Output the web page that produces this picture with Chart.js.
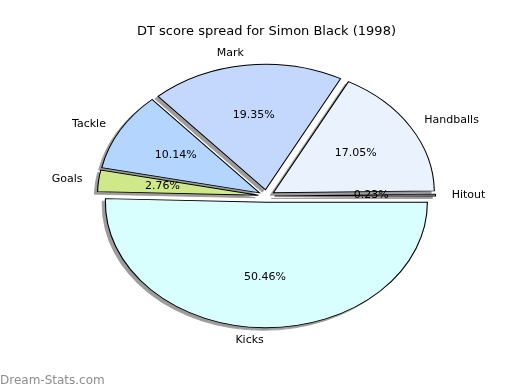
<!DOCTYPE html>
<html><head><meta charset="utf-8">
<script src="https://cdn.jsdelivr.net/npm/chart.js@4/dist/chart.umd.min.js"></script>
<style>html,body{margin:0;padding:0;background:#fff}</style>
</head><body><canvas id="c" width="520" height="390"></canvas>
<script>
// Data in matplotlib order (counter-clockwise from 3 o'clock)
const categories = ['Hitout', 'Handballs', 'Mark', 'Tackle', 'Goals', 'Kicks'];
const points = [1, 74, 84, 44, 12, 219];
const colors = ['#dcdcf0', '#eaf2fe', '#c4d8fe', '#b3d5fe', '#cfe88a', '#d8fefe'];
const titleText = 'DT score spread for Simon Black (1998)';
const watermark = 'Dream-Stats.com';

// Chart.js runs clockwise, so reverse to get the same visual order
const labelsCW = categories.slice().reverse();
const valuesCW = points.slice().reverse();
const colorsCW = colors.slice().reverse();
const total = points.reduce((a, b) => a + b, 0);

const YS = 125.5 / 161;    // vertical squash of the (non-equal aspect) pie
const EXPLODE = 0.05;
const SH_DX = -3.2, SH_DY = 2.5;
const FONT = "'DejaVu Sans', sans-serif";

function sliceTransform(ctx, el, extraX, extraY) {
  const R = el.outerRadius, off = EXPLODE * R;
  const mid = (el.startAngle + el.endAngle) / 2;
  ctx.translate(extraX, extraY);
  ctx.translate(el.x, el.y); ctx.scale(1, YS); ctx.translate(-el.x, -el.y);
  ctx.translate(Math.cos(mid) * off, Math.sin(mid) * off);
}

const piePlugin = {
  id: 'mplPie',
  beforeDatasetDraw(chart, args) {
    const ctx = chart.ctx;
    const els = args.meta.data;
    els.forEach(el => {
      ctx.save();
      sliceTransform(ctx, el, SH_DX, SH_DY);
      ctx.beginPath();
      ctx.moveTo(el.x, el.y);
      ctx.arc(el.x, el.y, el.outerRadius, el.startAngle, el.endAngle);
      ctx.closePath();
      ctx.fillStyle = '#9c9c9c';
      ctx.strokeStyle = '#9c9c9c';
      ctx.lineWidth = 1;
      ctx.fill(); ctx.stroke();
      ctx.restore();
    });
    els.forEach(el => {
      ctx.save();
      sliceTransform(ctx, el, 0, 0);
      el.draw(ctx);
      ctx.restore();
    });
    return false;
  },
  afterDatasetsDraw(chart) {
    const ctx = chart.ctx;
    const els = chart.getDatasetMeta(0).data;
    ctx.save();
    ctx.fillStyle = '#000';
    ctx.font = '11px ' + FONT;
    ctx.textBaseline = 'middle';
    els.forEach((el, i) => {
      const R = el.outerRadius;
      const mid = (el.startAngle + el.endAngle) / 2;
      const c = Math.cos(mid), s = Math.sin(mid);
      const lx = el.x + (1.1 + EXPLODE) * R * c;
      const ly = el.y + (1.1 + EXPLODE) * R * YS * s;
      ctx.textAlign = c > 0 ? 'left' : 'right';
      ctx.fillText(labelsCW[i], lx, ly);
      const px = el.x + (0.6 + EXPLODE) * R * c;
      const py = el.y + (0.6 + EXPLODE) * R * YS * s;
      ctx.textAlign = 'center';
      ctx.fillText((valuesCW[i] / total * 100).toFixed(2) + '%', px, py);
    });
    ctx.restore();
  },
  afterDraw(chart) {
    const ctx = chart.ctx;
    ctx.save();
    ctx.font = '12px ' + FONT;
    ctx.fillStyle = '#8e8e8e';
    ctx.textAlign = 'left';
    ctx.textBaseline = 'alphabetic';
    ctx.fillText(watermark, 0, 384);
    ctx.restore();
  }
};

new Chart(document.getElementById('c'), {
  type: 'pie',
  data: {
    labels: labelsCW,
    datasets: [{
      data: valuesCW,
      backgroundColor: colorsCW,
      borderColor: '#000',
      borderWidth: 1.1,
      borderJoinStyle: 'miter',
      offset: 0,
      clip: false
    }]
  },
  options: {
    responsive: false,
    devicePixelRatio: 1,
    animation: false,
    events: [],
    rotation: 90,
    radius: 161,
    layout: { padding: { left: 13, right: 0, top: 0, bottom: 47.6 } },
    plugins: {
      legend: { display: false },
      tooltip: { enabled: false },
      title: {
        display: true,
        text: titleText,
        color: '#000',
        font: { family: FONT, size: 13, weight: 'normal', lineHeight: 1.2 },
        padding: { top: 24, bottom: 10 }
      }
    }
  },
  plugins: [piePlugin]
});
</script>
</body></html>
